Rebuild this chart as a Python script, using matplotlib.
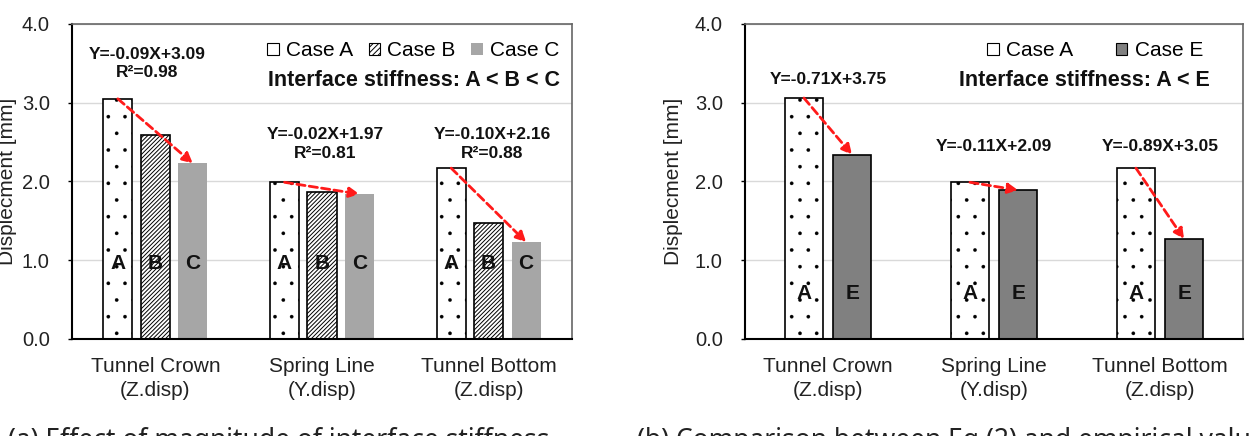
import matplotlib
matplotlib.use("Agg")
import matplotlib.pyplot as plt
from matplotlib.patches import Patch
import numpy as np

plt.rcParams['font.family'] = ['Liberation Sans', 'DejaVu Sans']
plt.rcParams['hatch.linewidth'] = 0.7

categories = ["Tunnel Crown\n(Z.disp)", "Spring Line\n(Y.disp)", "Tunnel Bottom\n(Z.disp)"]
yticks = [0.0, 1.0, 2.0, 3.0, 4.0]

# Panel (a)
case_a = [3.05, 1.99, 2.17]
case_b = [2.59, 1.87, 1.47]
case_c = [2.23, 1.84, 1.23]
eq_a = ["Y=-0.09X+3.09\nR²=0.98", "Y=-0.02X+1.97\nR²=0.81", "Y=-0.10X+2.16\nR²=0.88"]
eq_a_y = [3.50, 2.48, 2.48]

# Panel (b)
case_a2 = [3.06, 1.99, 2.17]
case_e = [2.34, 1.89, 1.27]
eq_b = ["Y=-0.71X+3.75", "Y=-0.11X+2.09", "Y=-0.89X+3.05"]
eq_b_y = [3.30, 2.44, 2.44]

W, H = 1251, 436
fig = plt.figure(figsize=(W / 100, H / 100), dpi=100)

def px_axes(l, r, t, b):
    return fig.add_axes([l / W, 1 - b / H, (r - l) / W, (b - t) / H])

def style(ax):
    ax.set_ylim(0, 4)
    ax.set_xlim(-0.5, 2.5)
    ax.set_yticks(yticks)
    ax.set_yticklabels([f"{v:.1f}" for v in yticks], fontsize=14.5)
    ax.set_xticks(range(3))
    ax.set_xticklabels(categories, fontsize=15, color='#222222', linespacing=1.35)
    ax.tick_params(axis='x', length=0, pad=13)
    ax.tick_params(axis='y', length=3, width=1, pad=13, labelcolor='#222222')
    ax.grid(axis='y', color='#d9d9d9', lw=1)
    ax.set_axisbelow(True)
    for s in ['top', 'right']:
        ax.spines[s].set_color('#666666')
        ax.spines[s].set_linewidth(1.2)
    for s in ['left', 'bottom']:
        ax.spines[s].set_color('black')
        ax.spines[s].set_linewidth(1.5)
    ax.set_ylabel("Displecment [mm]", fontsize=15, color='#222222')

def arrow(ax, x0, y0, x1, y1):
    ax.annotate("", xy=(x1, y1), xytext=(x0, y0),
                arrowprops=dict(arrowstyle='-|>,head_length=0.6,head_width=0.3',
                                linestyle=(0, (3, 1.5)), color='#ff1a1a', lw=2,
                                shrinkA=0, shrinkB=0), zorder=5)

def dotted_bar(ax, xs, vals, w):
    with plt.rc_context({'hatch.linewidth': 0.2}):
        return ax.bar(xs, vals, w, facecolor='white', edgecolor='black', hatch='.', lw=1.2)

x = np.arange(3)

# ---------- panel (a)
ax1 = px_axes(72, 572, 24, 339)
style(ax1)
ax1.yaxis.set_label_coords(-0.11, 0.5)
w1, st1 = 0.175, 0.225
dotted_bar(ax1, x - st1, case_a, w1)
ax1.bar(x, case_b, w1, facecolor='white', edgecolor='black', hatch='////////', lw=1.2)
ax1.bar(x + st1, case_c, w1, facecolor='#a6a6a6', edgecolor='none')
for i in range(3):
    for off, lab in zip([-st1, 0, st1], "ABC"):
        ax1.text(x[i] + off, 0.96, lab, ha='center', va='center', fontsize=15, fontweight='bold', color='#111111')
    arrow(ax1, x[i] - st1, case_a[i], x[i] + st1, case_c[i])
    ax1.text(x[i] - 0.05 if i == 0 else x[i] + 0.02, eq_a_y[i], eq_a[i], ha='center', va='center',
             fontsize=12.5, fontweight='bold', color='#111111', linespacing=1.3)
h1 = [Patch(facecolor='white', edgecolor='black', lw=0.8),
      Patch(facecolor='white', edgecolor='black', hatch='//////', lw=0.8),
      Patch(facecolor='#a6a6a6', edgecolor='none')]
ax1.legend(h1, ['Case A', 'Case B', 'Case C'], ncol=3, loc='upper right', frameon=False,
           fontsize=15, handlelength=0.55, handleheight=0.55, handletextpad=0.35,
           columnspacing=0.75, bbox_to_anchor=(1.0, 0.985), borderaxespad=0.2)
ax1.text(0.975, 0.822, "Interface stiffness: A < B < C", transform=ax1.transAxes, ha='right',
         va='center', fontsize=15.5, fontweight='bold', color='#111111')

# ---------- panel (b)
ax2 = px_axes(745, 1243, 24, 339)
style(ax2)
ax2.yaxis.set_label_coords(-0.125, 0.5)
w2, st2 = 0.229, 0.145
dotted_bar(ax2, x - st2, case_a2, w2)
ax2.bar(x + st2, case_e, w2, facecolor='#808080', edgecolor='black', lw=1.2)
for i in range(3):
    ax2.text(x[i] - st2, 0.58, "A", ha='center', va='center', fontsize=15, fontweight='bold', color='#111111')
    ax2.text(x[i] + st2, 0.58, "E", ha='center', va='center', fontsize=15, fontweight='bold', color='#111111')
    arrow(ax2, x[i] - st2, case_a2[i], x[i] + st2, case_e[i])
    ax2.text(x[i], eq_b_y[i], eq_b[i], ha='center', va='center', fontsize=12.5,
             fontweight='bold', color='#111111')
h2 = [Patch(facecolor='white', edgecolor='black', lw=0.8),
      Patch(facecolor='#808080', edgecolor='black', lw=0.8)]
ax2.legend(h2, ['Case A', 'Case E'], ncol=2, loc='upper right', frameon=False,
           fontsize=15, handlelength=0.55, handleheight=0.55, handletextpad=0.35,
           columnspacing=2.05, bbox_to_anchor=(0.945, 0.985), borderaxespad=0.2)
ax2.text(0.933, 0.822, "Interface stiffness: A < E", transform=ax2.transAxes, ha='right',
         va='center', fontsize=15.5, fontweight='bold', color='#111111')

# captions (cut off at bottom edge, as in the reference)
fig.text(8 / W, 1 - 427 / H, "(a) Effect of magnitude of interface stiffness", ha='left', va='top',
         fontsize=19, family=['Noto Sans', 'DejaVu Sans'], color='#222222')
fig.text(637 / W, 1 - 427 / H, "(b) Comparison between Eq.(2) and empirical values", ha='left', va='top',
         fontsize=19, family=['Noto Sans', 'DejaVu Sans'], color='#222222')

fig.savefig("out.png", dpi=100)
